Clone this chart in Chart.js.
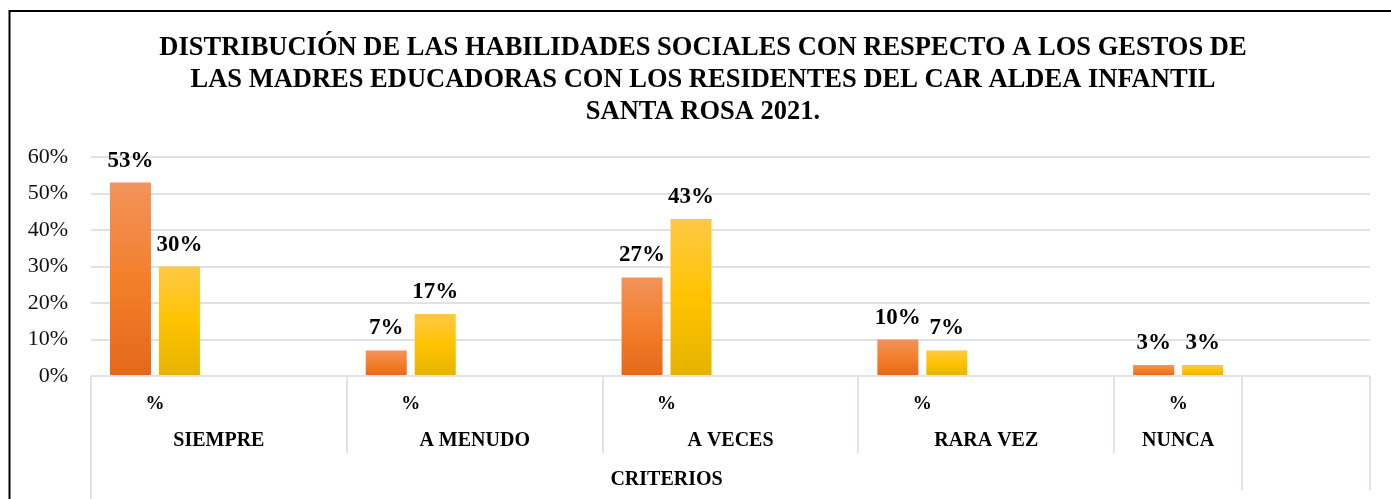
<!DOCTYPE html>
<html lang="es">
<head>
<meta charset="utf-8">
<title>Habilidades sociales - gestos</title>
<script src="https://cdn.jsdelivr.net/npm/chart.js@4.4.1/dist/chart.umd.min.js"></script>
<style>
  html, body { margin: 0; padding: 0; background: #fff; }
  canvas { display: block; }
</style>
</head>
<body>
<canvas id="grafico" width="1391" height="499"></canvas>
<script>
const titulo = [
  'DISTRIBUCIÓN DE LAS HABILIDADES SOCIALES CON RESPECTO A LOS GESTOS DE',
  'LAS MADRES EDUCADORAS CON LOS RESIDENTES DEL CAR ALDEA INFANTIL',
  'SANTA ROSA 2021.'
];
const categorias = ['SIEMPRE', 'A MENUDO', 'A VECES', 'RARA VEZ', 'NUNCA'];
const serie1 = [53, 7, 27, 10, 3];
const serie2 = [30, 17, 43, 7, 3];
const yTicks = [0, 10, 20, 30, 40, 50, 60];
const subEtiqueta = '%';
const tituloEje = 'CRITERIOS';

const serif = "'Times New Roman', 'Liberation Serif', serif";
const gris = '#dfe2e9';

// every criterion gets a "%" slot plus an empty one; NUNCA only keeps its "%" slot
// and the last empty slot sits outside the CRITERIOS group
const nSlots = categorias.length * 2;
const slots = Array.from({ length: nSlots }, (_, i) => (i % 2 === 0 ? subEtiqueta : ''));
const grupos = categorias.map((nombre, i) => ({
  nombre,
  inicio: i * 2,
  ancho: i < categorias.length - 1 ? 2 : 1
}));
const enSlots = vals => slots.map((_, i) => (i % 2 === 0 ? vals[i / 2] : null));

// vertical gradient per bar, light on top and darker at the base
function degradado(colores) {
  return function (c) {
    const chart = c.chart;
    if (c.type !== 'data' || c.raw == null || !chart.chartArea) return colores[1];
    const y = chart.scales.y;
    const g = chart.ctx.createLinearGradient(0, y.getPixelForValue(c.raw), 0, y.getPixelForValue(0));
    g.addColorStop(0, colores[0]);
    g.addColorStop(0.5, colores[1]);
    g.addColorStop(1, colores[2]);
    return g;
  };
}

// title block, centred a bit right of the canvas middle (over the whole frame)
const tituloGrafico = {
  id: 'tituloGrafico',
  afterDraw(chart) {
    const ctx = chart.ctx;
    ctx.save();
    ctx.font = 'bold 26.5px ' + serif;
    ctx.fillStyle = '#000';
    ctx.textAlign = 'center';
    ctx.textBaseline = 'alphabetic';
    titulo.forEach((t, i) => ctx.fillText(t, 703, 55 + i * 31.8));
    ctx.restore();
  }
};

const etiquetasValor = {
  id: 'etiquetasValor',
  afterDatasetsDraw(chart) {
    const ctx = chart.ctx;
    ctx.save();
    ctx.font = 'bold 23px ' + serif;
    ctx.fillStyle = '#000';
    ctx.textAlign = 'center';
    ctx.textBaseline = 'alphabetic';
    chart.data.datasets.forEach((ds, d) => {
      chart.getDatasetMeta(d).data.forEach((bar, i) => {
        const v = ds.data[i];
        if (v == null) return;
        ctx.fillText(v + '%', bar.x, bar.y - 16);
      });
    });
    ctx.restore();
  }
};

// multi-level category axis: "%" / criterion / CRITERIOS, with divider lines
const ejeCriterios = {
  id: 'ejeCriterios',
  afterDraw(chart) {
    const { ctx, chartArea } = chart;
    const x = chart.scales.x;
    const paso = (chartArea.right - chartArea.left) / nSlots;
    const borde = k => chartArea.left + k * paso;
    const base = chartArea.bottom;
    ctx.save();
    ctx.strokeStyle = gris;
    ctx.lineWidth = 2;
    const linea = (k, alto) => {
      ctx.beginPath();
      ctx.moveTo(Math.round(borde(k)), base);
      ctx.lineTo(Math.round(borde(k)), base + alto);
      ctx.stroke();
    };
    linea(0, chart.height - base);
    grupos.slice(1).forEach(g => linea(g.inicio, 77));
    const fin = grupos[grupos.length - 1];
    linea(fin.inicio + fin.ancho, 114);
    linea(nSlots, 114);

    ctx.fillStyle = '#000';
    ctx.textAlign = 'center';
    ctx.textBaseline = 'alphabetic';
    ctx.font = 'bold 19px ' + serif;
    slots.forEach((s, i) => { if (s) ctx.fillText(s, x.getPixelForValue(i), base + 33); });
    ctx.font = 'bold 20px ' + serif;
    grupos.forEach(g => ctx.fillText(g.nombre, borde(g.inicio + g.ancho / 2), base + 70));
    const total = fin.inicio + fin.ancho;
    ctx.fillText(tituloEje, borde(total / 2), base + 109);
    ctx.restore();
  }
};

// outer frame of the chart
const marco = {
  id: 'marco',
  afterDraw(chart) {
    const ctx = chart.ctx;
    ctx.save();
    ctx.strokeStyle = '#000';
    ctx.lineWidth = 2;
    ctx.beginPath();
    ctx.moveTo(9.5, chart.height);
    ctx.lineTo(9.5, 11);
    ctx.lineTo(chart.width, 11);
    ctx.stroke();
    ctx.restore();
  }
};

new Chart(document.getElementById('grafico'), {
  type: 'bar',
  data: {
    labels: slots,
    datasets: [{
      label: 'Serie 1',
      data: enSlots(serie1),
      backgroundColor: degradado(['#f2935c', '#f37f2b', '#e4681b'])
    }, {
      label: 'Serie 2',
      data: enSlots(serie2),
      backgroundColor: degradado(['#ffc845', '#ffc300', '#e5b300'])
    }]
  },
  options: {
    responsive: false,
    devicePixelRatio: 1,
    animation: false,
    categoryPercentage: 0.766,
    barPercentage: 0.837,
    layout: { padding: { left: 0, right: 21, top: 157, bottom: 123 } },
    plugins: {
      legend: { display: false },
      tooltip: { enabled: false },
      title: { display: false }
    },
    scales: {
      x: { display: false },
      y: {
        min: 0,
        max: 60,
        afterFit: s => { s.width = 91; },
        afterBuildTicks: s => { s.ticks = yTicks.map(v => ({ value: v })); },
        border: { display: false },
        grid: { color: gris, lineWidth: 2, drawTicks: false },
        ticks: {
          padding: 23,
          color: '#111',
          font: { family: serif, size: 22 },
          callback: v => v + '%'
        }
      }
    }
  },
  plugins: [tituloGrafico, etiquetasValor, ejeCriterios, marco]
});
</script>
</body>
</html>
